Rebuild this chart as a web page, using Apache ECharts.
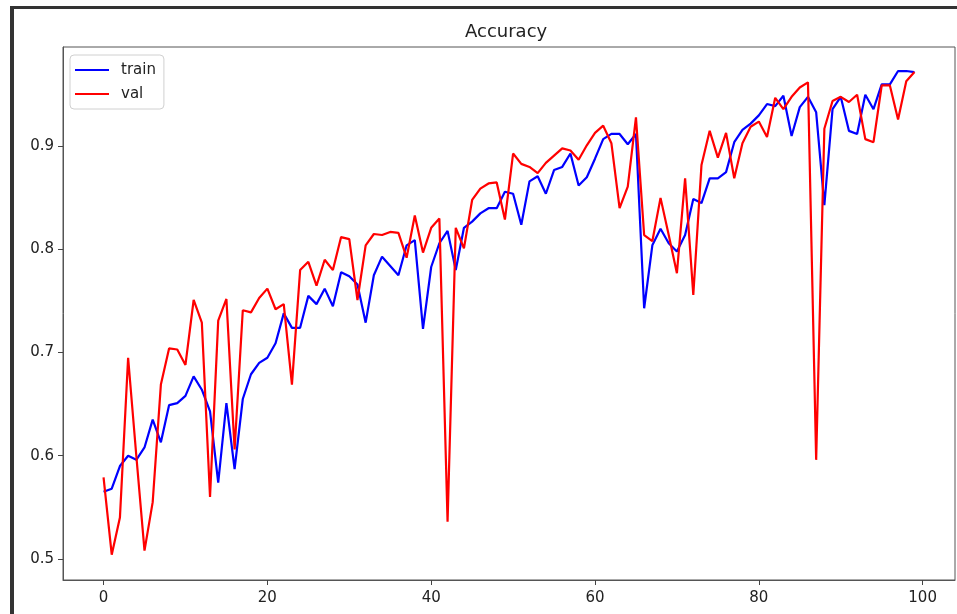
<!DOCTYPE html>
<html>
<head>
<meta charset="utf-8">
<script src="https://cdn.jsdelivr.net/npm/echarts@6/dist/echarts.min.js"></script>
<style>
html,body{margin:0;padding:0;background:#fff;}
#chart{width:957px;height:614px;}
</style>
</head>
<body>
<div id="chart"></div>
<script>
const chartTitle = 'Accuracy';
const seriesNames = ['train', 'val'];
const xTicks = [0, 20, 40, 60, 80, 100];
const yTicks = [0.5, 0.6, 0.7, 0.8, 0.9];

const trainAcc = [
  0.565, 0.568, 0.590, 0.600, 0.596, 0.608, 0.635, 0.613, 0.649, 0.651,
  0.658, 0.677, 0.664, 0.643, 0.574, 0.651, 0.587, 0.655, 0.679, 0.690,
  0.695, 0.709, 0.738, 0.724, 0.724, 0.755, 0.747, 0.762, 0.745, 0.778,
  0.774, 0.766, 0.729, 0.775, 0.793, 0.784, 0.775, 0.804, 0.809, 0.723,
  0.783, 0.806, 0.818, 0.780, 0.821, 0.827, 0.835, 0.840, 0.840, 0.856,
  0.854, 0.824, 0.866, 0.871, 0.854, 0.877, 0.880, 0.893, 0.862, 0.870,
  0.888, 0.907, 0.912, 0.912, 0.902, 0.912, 0.743, 0.804, 0.820, 0.806,
  0.798, 0.814, 0.849, 0.845, 0.869, 0.869, 0.875, 0.904, 0.916, 0.922,
  0.930, 0.941, 0.939, 0.949, 0.910, 0.938, 0.948, 0.933, 0.843, 0.936,
  0.948, 0.915, 0.912, 0.950, 0.936, 0.960, 0.960, 0.973, 0.973, 0.972
];

const valAcc = [
  0.579, 0.504, 0.540, 0.695, 0.600, 0.508, 0.555, 0.669, 0.704, 0.703,
  0.688, 0.751, 0.729, 0.560, 0.731, 0.752, 0.606, 0.741, 0.739, 0.753,
  0.762, 0.742, 0.747, 0.669, 0.780, 0.788, 0.765, 0.790, 0.780, 0.812,
  0.810, 0.751, 0.804, 0.815, 0.814, 0.817, 0.816, 0.792, 0.833, 0.797,
  0.821, 0.830, 0.536, 0.821, 0.801, 0.848, 0.859, 0.864, 0.865, 0.829,
  0.893, 0.883, 0.880, 0.874, 0.884, 0.891, 0.898, 0.896, 0.887, 0.901,
  0.913, 0.920, 0.903, 0.840, 0.861, 0.928, 0.814, 0.808, 0.850, 0.814,
  0.777, 0.869, 0.756, 0.882, 0.915, 0.889, 0.913, 0.869, 0.903, 0.919,
  0.924, 0.909, 0.947, 0.936, 0.948, 0.957, 0.962, 0.596, 0.917, 0.944,
  0.948, 0.943, 0.950, 0.907, 0.904, 0.959, 0.959, 0.926, 0.963, 0.972
];

const toPairs = arr => arr.map((v, i) => [i, v]);

const chart = echarts.init(document.getElementById('chart'), null, {renderer: 'canvas'});
const font = 'DejaVu Sans';

chart.setOption({
  backgroundColor: '#ffffff',
  animation: false,
  textStyle: {fontFamily: font},
  title: {
    text: chartTitle,
    left: 460,
    top: 18,
    padding: 5,
    textStyle: {fontFamily: font, fontSize: 18, fontWeight: 'normal', color: '#222'}
  },
  legend: {
    data: seriesNames,
    orient: 'vertical',
    left: 70,
    top: 55,
    padding: [6, 8, 6, 5],
    icon: 'rect',
    itemWidth: 34,
    itemHeight: 2,
    itemGap: 6,
    borderColor: '#d0d0d0',
    borderWidth: 1,
    borderRadius: 4,
    backgroundColor: '#ffffff',
    textStyle: {fontFamily: font, fontSize: 15, color: '#222', padding: [0, 0, 0, 7], lineHeight: 18}
  },
  graphic: [
    {type: 'rect', left: 10, top: 6, shape: {width: 4, height: 608}, style: {fill: '#333'}, z: 100},
    {type: 'rect', left: 10, top: 6, shape: {width: 947, height: 3}, style: {fill: '#333'}, z: 100}
  ],
  grid: {
    left: 63,
    right: 2,
    top: 47,
    bottom: 34,
    show: true,
    borderColor: '#555',
    borderWidth: 1,
    backgroundColor: 'transparent'
  },
  xAxis: {
    type: 'value',
    min: -4.95,
    max: 103.95,
    splitLine: {show: false},
    axisLine: {show: true, onZero: false, lineStyle: {color: '#555', width: 1}},
    axisTick: {show: true, inside: false, length: 5, customValues: xTicks, lineStyle: {color: '#444'}},
    axisLabel: {show: true, margin: 11, customValues: xTicks, fontFamily: font, fontSize: 15, color: '#222'}
  },
  yAxis: {
    type: 'value',
    min: 0.4795,
    max: 0.9963,
    splitLine: {show: false},
    axisLine: {show: true, onZero: false, lineStyle: {color: '#555', width: 1}},
    axisTick: {show: true, inside: false, length: 5, customValues: yTicks, lineStyle: {color: '#444'}},
    axisLabel: {
      show: true, margin: 9, customValues: yTicks, fontFamily: font, fontSize: 15, color: '#222',
      formatter: v => v.toFixed(1)
    }
  },
  series: [
    {
      name: seriesNames[0],
      type: 'line',
      data: toPairs(trainAcc),
      symbol: 'none',
      lineStyle: {color: '#0000ff', width: 2.2},
      itemStyle: {color: '#0000ff'},
      z: 2
    },
    {
      name: seriesNames[1],
      type: 'line',
      data: toPairs(valAcc),
      symbol: 'none',
      lineStyle: {color: '#ff0000', width: 2.2},
      itemStyle: {color: '#ff0000'},
      z: 3
    }
  ]
});
</script>
</body>
</html>
